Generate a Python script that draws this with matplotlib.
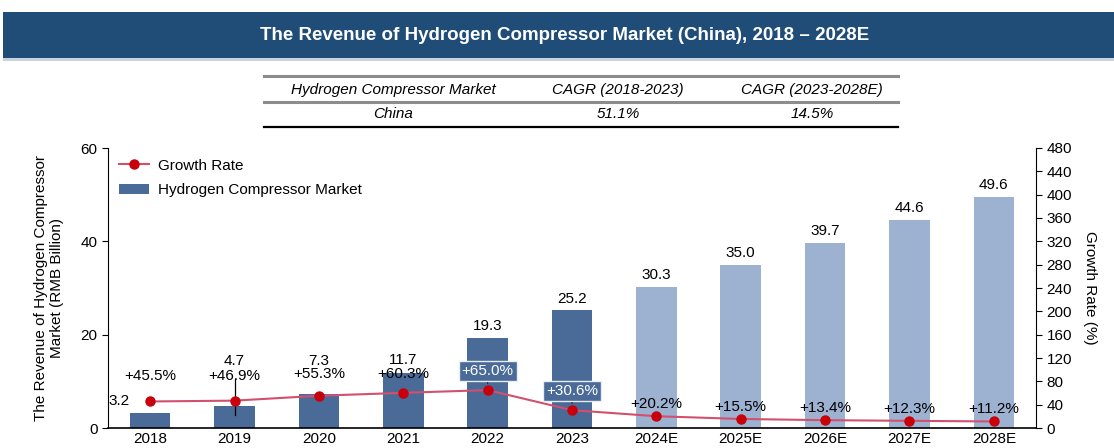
import numpy as np
import matplotlib.pyplot as plt
from matplotlib.patches import Rectangle
from matplotlib.lines import Line2D

plt.rcParams['font.family'] = ['Liberation Sans', 'DejaVu Sans']

# data
years = ['2018', '2019', '2020', '2021', '2022', '2023',
         '2024E', '2025E', '2026E', '2027E', '2028E']
market = [3.2, 4.7, 7.3, 11.7, 19.3, 25.2, 30.3, 35.0, 39.7, 44.6, 49.6]
growth = [45.5, 46.9, 55.3, 60.3, 65.0, 30.6, 20.2, 15.5, 13.4, 12.3, 11.2]
n_hist = 6

table_head = ['Hydrogen Compressor Market', 'CAGR (2018-2023)', 'CAGR (2023-2028E)']
table_row = ['China', '51.1%', '14.5%']

c_hist = '#4a6a98'
c_fore = '#9db2d1'
c_line = '#d2506e'
c_mark = '#c8000a'
fs = 11

W, H = 1114, 448
fig = plt.figure(figsize=(W / 100, H / 100), dpi=100)

# title banner
fig.patches.append(Rectangle((3 / W, 1 - 58 / H), 1, 46 / H, transform=fig.transFigure,
                             facecolor='#1f4d78', edgecolor='none'))
fig.patches.append(Rectangle((3 / W, 1 - 61 / H), 1, 3 / H, transform=fig.transFigure,
                             facecolor='#c9d3de', edgecolor='none'))
fig.text(565 / W, 1 - 35 / H, 'The Revenue of Hydrogen Compressor Market (China), 2018 \u2013 2028E',
         ha='center', va='center', color='white', fontsize=13.5, fontweight='bold')

# CAGR table
x0, x1 = 264 / W, 898 / W
for yy, col, lw in [(76, '#8c8c8c', 2.2), (102, '#8c8c8c', 2.2), (127, 'black', 1.6)]:
    fig.add_artist(Line2D([x0, x1], [1 - yy / H] * 2, color=col, lw=lw,
                          transform=fig.transFigure))
col_x = [393, 618, 812]
for cx, h, r in zip(col_x, table_head, table_row):
    fig.text(cx / W, 1 - 90 / H, h, ha='center', va='center', fontsize=11, style='italic')
    fig.text(cx / W, 1 - 114 / H, r, ha='center', va='center', fontsize=11, style='italic')

# main axes
ax = fig.add_axes([108 / W, 20 / H, (1036 - 108) / W, 280 / H])
ax2 = ax.twinx()
x = np.arange(len(years))
colors = [c_hist if i < n_hist else c_fore for i in range(len(years))]
ax.bar(x, market, width=0.48, color=colors, zorder=2)
ax.set_ylim(0, 60)
ax.set_yticks([0, 20, 40, 60])
ax.set_xlim(-0.5, len(years) - 0.5)
ax.set_xticks(x)
ax.set_xticklabels(years)
ax.tick_params(axis='x', length=0, labelsize=fs, pad=3)
ax.tick_params(axis='y', labelsize=fs, direction='out', length=4)
for s in ['top', 'right']:
    ax.spines[s].set_visible(False)
ax.spines['bottom'].set_linewidth(1.2)
ax.set_ylabel('The Revenue of Hydrogen Compressor\nMarket (RMB Billion)', fontsize=fs, labelpad=12)

ax2.plot(x, growth, color=c_line, lw=1.5, marker='o', markersize=6.5,
         markerfacecolor=c_mark, markeredgecolor=c_mark, zorder=3)
ax2.set_ylim(0, 480)
ax2.set_yticks(np.arange(0, 481, 40))
ax2.tick_params(axis='y', labelsize=fs, direction='out', length=4)
for s in ['top', 'left', 'bottom']:
    ax2.spines[s].set_visible(False)
ax2.set_ylabel('Growth Rate (%)', fontsize=fs, rotation=270, labelpad=18)

# value labels
for i, v in enumerate(market):
    if i == 0:
        ax.text(i - 0.24, growth[i] / 8, f'{v:.1f}', ha='right', va='center', fontsize=fs)
    elif i < 4:
        ax.text(i, max(v, 11.5) + 1.3, f'{v:.1f}', ha='center', va='bottom', fontsize=fs)
    else:
        ax.text(i, v + 1.0, f'{v:.1f}', ha='center', va='bottom', fontsize=fs)

for i, g in enumerate(growth):
    lbl = f'+{g:.1f}%'
    if i in (4, 5):
        ax2.annotate(lbl, (i, g), xytext=(0, 9), textcoords='offset points',
                     ha='center', va='bottom', fontsize=fs, color='white',
                     bbox=dict(boxstyle='square,pad=0.2', facecolor=c_hist, edgecolor='#e8eef5'),
                     arrowprops=dict(arrowstyle='-', color='black', lw=0.8, shrinkA=0, shrinkB=5))
    elif i < 4:
        ax2.text(i, 78 + (2 if i > 1 else 0), lbl, ha='center', va='bottom', fontsize=fs)
    else:
        ax2.text(i, g + 9, lbl, ha='center', va='bottom', fontsize=fs)
# leader line at 2019
ax.plot([1, 1], [2.8, 10.5], color='black', lw=0.9, zorder=4)

legend_handles = [
    Line2D([0], [0], color=c_line, lw=1.5, marker='o', markersize=6.5,
           markerfacecolor=c_mark, markeredgecolor=c_mark),
    Rectangle((0, 0), 1, 1, facecolor=c_hist),
]
ax.legend(legend_handles, ['Growth Rate', 'Hydrogen Compressor Market'],
          loc='upper left', frameon=False, fontsize=fs, borderaxespad=0.3,
          handlelength=2.0, handletextpad=0.6, labelspacing=0.7,
          bbox_to_anchor=(0.0, 1.0))

fig.savefig('out.png', dpi=100)
